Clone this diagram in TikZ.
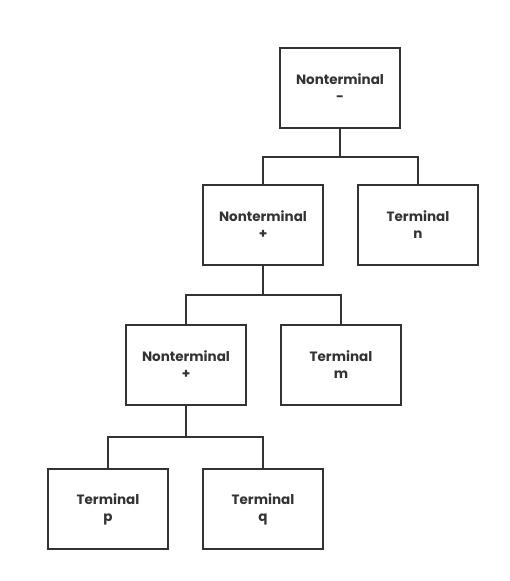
\documentclass[tikz,border=0pt]{standalone}
\usepackage{fontspec}
\setmainfont{Poppins}
\begin{document}
\begin{tikzpicture}[x=1pt,y=-1pt,
  box/.style={draw=black!80,line width=1.6pt,minimum width=120pt,minimum height=80pt,inner sep=0pt,
    align=center,font=\bfseries\fontsize{13.5}{17}\selectfont,text=black!80},
  conn/.style={draw=black!80,line width=1.6pt}]
\useasboundingbox (0,0) rectangle (510,581);
\node[box] (root) at (340,88) {Nonterminal\\-};
\node[box] (nt2) at (263,225) {Nonterminal\\+};
\node[box] (tn) at (418,225) {Terminal\\n};
\node[box] (nt3) at (186,365) {Nonterminal\\+};
\node[box] (tm) at (341,365) {Terminal\\m};
\node[box] (tp) at (108,509) {Terminal\\p};
\node[box] (tq) at (263,509) {Terminal\\q};
\coordinate (j1) at (340,157);
\coordinate (j2) at (263,295);
\coordinate (j3) at (186,437);
\draw[conn] (root.south) -- (j1);
\draw[conn] (nt2.north) |- (j1) -| (tn.north);
\draw[conn] (nt2.south) -- (j2);
\draw[conn] (nt3.north) |- (j2) -| (tm.north);
\draw[conn] (nt3.south) -- (j3);
\draw[conn] (tp.north) |- (j3) -| (tq.north);
\end{tikzpicture}
\end{document}
